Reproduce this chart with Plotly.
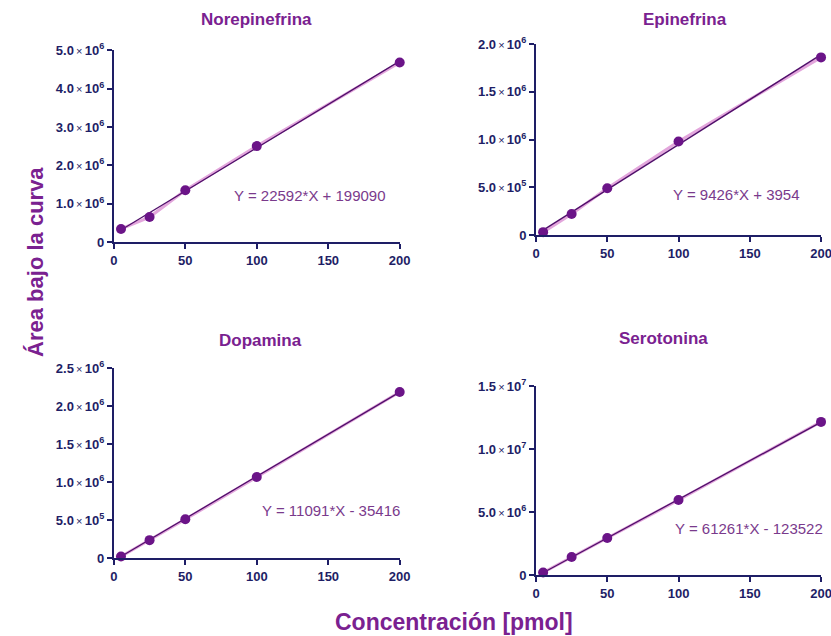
import plotly.graph_objects as go

conc = [5, 25, 50, 100, 200]
titles = ["Norepinefrina", "Epinefrina", "Dopamina", "Serotonina"]
norepinefrina = [340000, 650000, 1350000, 2500000, 4680000]
epinefrina = [30000, 220000, 490000, 980000, 1860000]
dopamina = [20000, 235000, 510000, 1065000, 2185000]
serotonina = [200000, 1430000, 2940000, 5950000, 12150000]
series = [norepinefrina, epinefrina, dopamina, serotonina]
slopes = [22592, 9426, 11091, 61261]
intercepts = [199090, 3954, -35416, -123522]
equations = ["Y = 22592*X + 199090", "Y = 9426*X + 3954",
             "Y = 11091*X - 35416", "Y = 61261*X - 123522"]
y_max = [5.0e6, 2.0e6, 2.5e6, 1.5e7]
y_tickvals = [
    [0, 1e6, 2e6, 3e6, 4e6, 5e6],
    [0, 5e5, 1e6, 1.5e6, 2e6],
    [0, 5e5, 1e6, 1.5e6, 2e6, 2.5e6],
    [0, 5e6, 1e7, 1.5e7],
]
y_ticklabels = [
    ["0", "1.0|6", "2.0|6", "3.0|6", "4.0|6", "5.0|6"],
    ["0", "5.0|5", "1.0|6", "1.5|6", "2.0|6"],
    ["0", "5.0|5", "1.0|6", "1.5|6", "2.0|6", "2.5|6"],
    ["0", "5.0|6", "1.0|7", "1.5|7"],
]
x_ticks = [0, 50, 100, 150, 200]
eq_pos = [(83, 1.22e6), (95, 4.2e5), (102, 6.3e5), (96, 3.73e6)]
title_pos = [(0.309, 0.9686), (0.824, 0.9686), (0.314, 0.4654), (0.799, 0.467)]

NAVY = "#1e1e66"
PURPLE = "#7a2190"
DOT = "#6b1488"
PINK = "#e3a6dc"
FIT = "#4f0f6a"


def fmt(lbl):
    if "|" not in lbl:
        return "<b>%s</b>" % lbl
    m, e = lbl.split("|")
    return ("<b>%s</b><span style='font-size:11px'>\u2009×\u2009</span><b>10<sup>%s</sup></b>"
            % (m, e))


domains = [
    ((0.137, 0.481), (0.6195, 0.921)),
    ((0.645, 0.988), (0.6305, 0.9308)),
    ((0.137, 0.481), (0.1226, 0.4214)),
    ((0.645, 0.988), (0.0959, 0.3931)),
]

fig = go.Figure()
annotations = []
for i in range(4):
    xa = "x" if i == 0 else "x%d" % (i + 1)
    ya = "y" if i == 0 else "y%d" % (i + 1)
    xs = conc
    ys = series[i]
    fit_x = [conc[0], conc[-1]]
    fit_y = [slopes[i] * v + intercepts[i] for v in fit_x]
    fig.add_trace(go.Scatter(x=xs, y=ys, mode="lines", line=dict(color=PINK, width=3),
                             xaxis=xa, yaxis=ya, showlegend=False, hoverinfo="skip"))
    fig.add_trace(go.Scatter(x=fit_x, y=fit_y, mode="lines", line=dict(color=FIT, width=1.3),
                             xaxis=xa, yaxis=ya, showlegend=False))
    fig.add_trace(go.Scatter(x=xs, y=ys, mode="markers", marker=dict(color=DOT, size=10),
                             xaxis=xa, yaxis=ya, showlegend=False, cliponaxis=False))
    (dx, dy) = domains[i]
    axkey = "xaxis" if i == 0 else "xaxis%d" % (i + 1)
    aykey = "yaxis" if i == 0 else "yaxis%d" % (i + 1)
    fig.layout[axkey] = dict(domain=list(dx), anchor=ya, range=[0, 200], automargin=False,
                             tickvals=x_ticks, ticktext=["<b>%d</b>" % t for t in x_ticks],
                             ticklabeloverflow="allow",
                             showgrid=False, zeroline=False, showline=True,
                             linecolor=NAVY, linewidth=2, ticks="outside", ticklen=5,
                             tickwidth=2, tickcolor=NAVY,
                             tickfont=dict(family="Liberation Sans", size=13, color=NAVY))
    fig.layout[aykey] = dict(domain=list(dy), anchor=xa, range=[0, y_max[i]], automargin=False,
                             tickvals=y_tickvals[i],
                             ticktext=[fmt(t) for t in y_ticklabels[i]],
                             ticklabeloverflow="allow",
                             showgrid=False, zeroline=False, showline=True,
                             linecolor=NAVY, linewidth=2, ticks="outside", ticklen=5,
                             tickwidth=2, tickcolor=NAVY,
                             tickfont=dict(family="Liberation Sans", size=13, color=NAVY))
    annotations.append(dict(x=title_pos[i][0], y=title_pos[i][1], xref="paper", yref="paper",
                            xanchor="center", yanchor="middle",
                            text="<b>%s</b>" % titles[i], showarrow=False,
                            font=dict(family="Liberation Sans", size=17, color=PURPLE)))
    annotations.append(dict(x=eq_pos[i][0], y=eq_pos[i][1], xref=xa, yref=ya,
                            text=equations[i], showarrow=False, xanchor="left",
                            yanchor="middle",
                            font=dict(family="Liberation Sans", size=15, color="#7a3a8c")))

annotations.append(dict(x=0.042, y=0.588, xref="paper", yref="paper",
                        xanchor="center", yanchor="middle",
                        text="<b>Área bajo la curva</b>", textangle=-90, showarrow=False,
                        font=dict(family="Liberation Sans", size=22, color=PURPLE)))
annotations.append(dict(x=0.546, y=0.022, xref="paper", yref="paper",
                        xanchor="center", yanchor="middle",
                        text="<b>Concentración [pmol]</b>", showarrow=False,
                        font=dict(family="Liberation Sans", size=23, color=PURPLE)))

fig.update_layout(width=831, height=636, margin=dict(l=0, r=0, t=0, b=0, autoexpand=False),
                  plot_bgcolor="white", paper_bgcolor="white", annotations=annotations)
fig.write_html("out.html", config={"displayModeBar": False},
               post_script="document.body.style.margin='0';document.body.style.overflow='hidden';")
